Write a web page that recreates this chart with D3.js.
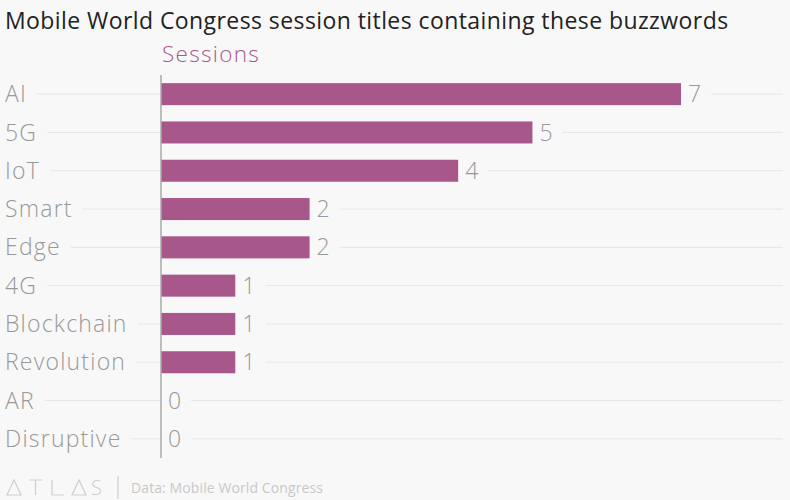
<!DOCTYPE html>
<html>
<head>
<meta charset="utf-8">
<script src="https://cdn.jsdelivr.net/npm/d3@7"></script>
<style>
  html, body { margin: 0; padding: 0; background: #f8f8f8; }
  svg { display: block; font-family: "Open Sans", "Roboto", sans-serif; }
</style>
</head>
<body>
<svg id="chart" width="790" height="500"></svg>
<script>
const categories = ["AI", "5G", "IoT", "Smart", "Edge", "4G", "Blockchain", "Revolution", "AR", "Disruptive"];
const sessions = [7, 5, 4, 2, 2, 1, 1, 1, 0, 0];
const seriesName = "Sessions";
const titleText = "Mobile World Congress session titles containing these buzzwords";
const sourceText = "Data: Mobile World Congress";

const svg = d3.select("#chart");
const W = 790, H = 500;
svg.append("rect").attr("width", W).attr("height", H).attr("fill", "#f8f8f8");

const x = d3.scaleLinear().domain([0, 7]).range([161, 681]);
const y = d3.scaleBand().domain(categories).range([75, 458]).padding(0);
const barH = y.bandwidth() * 0.575;
const barColor = "#a8578a";
const gridColor = "#e6e6e6";
const textGrey = "#999999";
const fs = 23;

// Title
svg.append("text").attr("x", 5).attr("y", 29)
  .attr("font-size", 23).attr("fill", "#222").attr("font-weight", 400)
  .attr("letter-spacing", 0.42)
  .text(titleText);

// Series name
svg.append("text").attr("x", 162).attr("y", 62)
  .attr("font-size", 22.5).attr("fill", barColor).attr("font-weight", 300)
  .attr("letter-spacing", 1.3)
  .text(seriesName);

const rows = svg.append("g");
categories.forEach((c, i) => {
  const cy = y(c) + y.bandwidth() / 2;
  const g = rows.append("g");
  const lab = g.append("text").attr("x", 5).attr("y", cy).attr("dy", "0.35em")
    .attr("font-size", fs).attr("font-weight", 300).attr("fill", textGrey)
    .attr("letter-spacing", 1.2).text(c);
  const lw = lab.node().getComputedTextLength();
  g.insert("line", "text").attr("x1", 5 + lw + 10).attr("x2", x(0))
    .attr("y1", cy).attr("y2", cy).attr("stroke", gridColor).attr("stroke-width", 1);
  const v = sessions[i];
  g.append("rect").attr("x", x(0)).attr("y", cy - barH / 2)
    .attr("width", x(v) - x(0)).attr("height", barH).attr("fill", barColor);
  const vt = g.append("text").attr("x", x(v) + 7).attr("y", cy).attr("dy", "0.35em")
    .attr("font-size", fs).attr("font-weight", 300).attr("fill", textGrey).text(v);
  const vw = vt.node().getComputedTextLength();
  g.insert("line", "rect").attr("x1", x(v) + 7 + vw + 10).attr("x2", 783)
    .attr("y1", cy).attr("y2", cy).attr("stroke", gridColor).attr("stroke-width", 1);
});

// Axis line
svg.append("line").attr("x1", x(0)).attr("x2", x(0)).attr("y1", 75).attr("y2", 458)
  .attr("stroke", "#aaa").attr("stroke-width", 1.5);

// Footer: ATLAS logo
const logo = svg.append("g").attr("fill", "none").attr("stroke", "#cfcfcf").attr("stroke-width", 1.2);
const by = 495, ty = 480;
logo.append("path").attr("d", `M7,${by} L14,${ty} L21,${by} Z`);
logo.append("path").attr("d", `M29,${ty} L42,${ty} M35.5,${ty} L35.5,${by}`);
logo.append("path").attr("d", `M52,${ty} L52,${by} L64,${by}`);
logo.append("path").attr("d", `M72,${by} L79,${ty} L86,${by} Z`);
svg.append("text").attr("x", 91).attr("y", by).attr("font-size", 20).attr("font-weight", 300)
  .attr("fill", "#cfcfcf").text("S");
logo.append("line").attr("x1", 118).attr("x2", 118).attr("y1", 476).attr("y2", 499);

svg.append("text").attr("x", 131).attr("y", 493).attr("font-size", 14)
  .attr("fill", "#c8c8c8").attr("letter-spacing", 0.1).text(sourceText);
</script>
</body>
</html>
